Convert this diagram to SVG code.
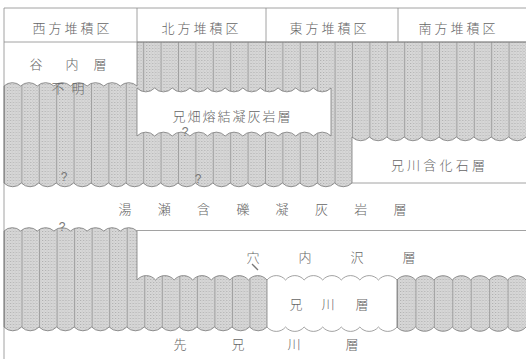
<svg xmlns="http://www.w3.org/2000/svg" width="526" height="359" viewBox="0 0 526 359">
<style>
.t{font-family:"Noto Sans CJK JP","Noto Sans CJK SC",sans-serif;font-size:13px;font-weight:300;fill:#666;text-anchor:middle;dominant-baseline:central}
.q{font-family:"Liberation Sans",sans-serif;font-size:12px;fill:#777;text-anchor:middle;dominant-baseline:central}
.ln{fill:none;stroke:#8a8a8a;stroke-width:0.8}
.hatch{stroke:#7a7a7a;stroke-width:0.8}
</style>
<defs>
<pattern id="dots" width="3" height="3" patternUnits="userSpaceOnUse">
<rect width="3" height="3" fill="#d8d8d8"/>
<rect x="0" y="0" width="1" height="1" fill="#adadad"/>
<rect x="1.5" y="1.5" width="1" height="1" fill="#c0c0c0"/>
</pattern>
<pattern id="pA" x="4" y="0" width="17.4" height="6" patternUnits="userSpaceOnUse">
<rect width="17.4" height="6" fill="url(#dots)"/>
<line x1="0.5" y1="0" x2="0.5" y2="6" stroke="#9a9a9a" stroke-width="0.9"/>
</pattern>
<pattern id="pB" x="4" y="0" width="17.533" height="6" patternUnits="userSpaceOnUse">
<rect width="17.533" height="6" fill="url(#dots)"/>
<line x1="0.5" y1="0" x2="0.5" y2="6" stroke="#9a9a9a" stroke-width="0.9"/>
</pattern>
<pattern id="pC" x="397" y="0" width="18.429" height="6" patternUnits="userSpaceOnUse">
<rect width="18.429" height="6" fill="url(#dots)"/>
<line x1="0.5" y1="0" x2="0.5" y2="6" stroke="#9a9a9a" stroke-width="0.9"/>
</pattern>
</defs>
<rect width="526" height="359" fill="#fff"/>

<g id="hatch-upper">
<path class="hatch" fill="url(#pA)" fill-rule="evenodd" d="M4,86
a12 12 0 0 1 16.625 0 a12 12 0 0 1 16.625 0 a12 12 0 0 1 16.625 0 a12 12 0 0 1 16.625 0
a12 12 0 0 1 16.625 0 a12 12 0 0 1 16.625 0 a12 12 0 0 1 16.625 0 a12 12 0 0 1 16.625 0
V42 H527 V137 H526
a12 12 0 0 1 -17.4 0 a12 12 0 0 1 -17.4 0 a12 12 0 0 1 -17.4 0 a12 12 0 0 1 -17.4 0 a12 12 0 0 1 -17.4 0
a12 12 0 0 1 -17.4 0 a12 12 0 0 1 -17.4 0 a12 12 0 0 1 -17.4 0 a12 12 0 0 1 -17.4 0 a12 12 0 0 1 -17.4 0
V183
a12 12 0 0 1 -17.4 0 a12 12 0 0 1 -17.4 0 a12 12 0 0 1 -17.4 0 a12 12 0 0 1 -17.4 0 a12 12 0 0 1 -17.4 0
a12 12 0 0 1 -17.4 0 a12 12 0 0 1 -17.4 0 a12 12 0 0 1 -17.4 0 a12 12 0 0 1 -17.4 0 a12 12 0 0 1 -17.4 0
a12 12 0 0 1 -17.4 0 a12 12 0 0 1 -17.4 0 a12 12 0 0 1 -17.4 0 a12 12 0 0 1 -17.4 0 a12 12 0 0 1 -17.4 0
a12 12 0 0 1 -17.4 0 a12 12 0 0 1 -17.4 0 a12 12 0 0 1 -17.4 0 a12 12 0 0 1 -17.4 0 a12 12 0 0 1 -17.4 0
Z
M137,88
a12 12 0 0 0 17.636 0 a12 12 0 0 0 17.636 0 a12 12 0 0 0 17.636 0 a12 12 0 0 0 17.636 0
a12 12 0 0 0 17.636 0 a12 12 0 0 0 17.636 0 a12 12 0 0 0 17.636 0 a12 12 0 0 0 17.636 0
a12 12 0 0 0 17.636 0 a12 12 0 0 0 17.636 0 a12 12 0 0 0 17.636 0
V136
a12 12 0 0 0 -17.636 0 a12 12 0 0 0 -17.636 0 a12 12 0 0 0 -17.636 0 a12 12 0 0 0 -17.636 0
a12 12 0 0 0 -17.636 0 a12 12 0 0 0 -17.636 0 a12 12 0 0 0 -17.636 0 a12 12 0 0 0 -17.636 0
a12 12 0 0 0 -17.636 0 a12 12 0 0 0 -17.636 0 a12 12 0 0 0 -17.636 0
Z"/>
</g>

<g id="hatch-lower-left">
<path class="hatch" fill="url(#pB)" d="M4,231
a12 12 0 0 1 16.625 0 a12 12 0 0 1 16.625 0 a12 12 0 0 1 16.625 0 a12 12 0 0 1 16.625 0
a12 12 0 0 1 16.625 0 a12 12 0 0 1 16.625 0 a12 12 0 0 1 16.625 0 a12 12 0 0 1 16.625 0
V280
a12 12 0 0 1 18.571 0 a12 12 0 0 1 18.571 0 a12 12 0 0 1 18.571 0 a12 12 0 0 1 18.571 0
a12 12 0 0 1 18.571 0 a12 12 0 0 1 18.571 0 a12 12 0 0 1 18.571 0
V327
a12 12 0 0 1 -17.533 0 a12 12 0 0 1 -17.533 0 a12 12 0 0 1 -17.533 0 a12 12 0 0 1 -17.533 0 a12 12 0 0 1 -17.533 0
a12 12 0 0 1 -17.533 0 a12 12 0 0 1 -17.533 0 a12 12 0 0 1 -17.533 0 a12 12 0 0 1 -17.533 0 a12 12 0 0 1 -17.533 0
a12 12 0 0 1 -17.533 0 a12 12 0 0 1 -17.533 0 a12 12 0 0 1 -17.533 0 a12 12 0 0 1 -17.533 0 a12 12 0 0 1 -17.533 0
Z"/>
</g>

<g id="hatch-lower-right">
<path class="hatch" fill="url(#pC)" d="M397,280
a12 12 0 0 1 18.429 0 a12 12 0 0 1 18.429 0 a12 12 0 0 1 18.429 0 a12 12 0 0 1 18.429 0
a12 12 0 0 1 18.429 0 a12 12 0 0 1 18.429 0 a12 12 0 0 1 18.429 0
H527 V327 H526
a12 12 0 0 1 -18.429 0 a12 12 0 0 1 -18.429 0 a12 12 0 0 1 -18.429 0 a12 12 0 0 1 -18.429 0
a12 12 0 0 1 -18.429 0 a12 12 0 0 1 -18.429 0 a12 12 0 0 1 -18.429 0
Z"/>
</g>

<g id="frame">
<path class="ln" d="M4,8H526M4,42H526M4,8V359M137,8V42M266,8V42M398,8V42"/>
<path class="ln" d="M137,230.5H526M352,183H526"/>
<path class="ln" d="M267,280
a12 12 0 0 1 18.571 0 a12 12 0 0 1 18.571 0 a12 12 0 0 1 18.571 0 a12 12 0 0 1 18.571 0
a12 12 0 0 1 18.571 0 a12 12 0 0 1 18.571 0 a12 12 0 0 1 18.571 0
M267,327
a12 12 0 0 0 18.571 0 a12 12 0 0 0 18.571 0 a12 12 0 0 0 18.571 0 a12 12 0 0 0 18.571 0
a12 12 0 0 0 18.571 0 a12 12 0 0 0 18.571 0 a12 12 0 0 0 18.571 0"/>
<path d="M252,264L258,270" stroke="#777" stroke-width="1.3"/>
</g>

<g id="headers">
<text class="t" x="72.5" y="27" style="letter-spacing:3px">西方堆積区</text>
<text class="t" x="201.5" y="27" style="letter-spacing:3px">北方堆積区</text>
<text class="t" x="329.5" y="27" style="letter-spacing:3px">東方堆積区</text>
<text class="t" x="458.5" y="27" style="letter-spacing:3px">南方堆積区</text>
</g>

<g id="tanai">
<text class="t" x="36" y="63">谷</text>
<text class="t" x="72" y="63">内</text>
<text class="t" x="100" y="63">層</text>
<text class="t" x="58" y="87">不</text>
<text class="t" x="78" y="87">明</text>
</g>

<g id="anihata">
<text class="t" x="232.5" y="115" style="letter-spacing:2px">兄畑熔結凝灰岩層</text>
</g>

<g id="anikawa-fossil">
<text class="t" x="439.5" y="164" style="letter-spacing:3.2px">兄川含化石層</text>
</g>

<g id="yuze">
<text class="t" x="125" y="208">湯</text>
<text class="t" x="164.3" y="208">瀬</text>
<text class="t" x="203.6" y="208">含</text>
<text class="t" x="242.9" y="208">礫</text>
<text class="t" x="282.1" y="208">凝</text>
<text class="t" x="321.4" y="208">灰</text>
<text class="t" x="360.7" y="208">岩</text>
<text class="t" x="400" y="208">層</text>
</g>

<g id="anaizawa">
<text class="t" x="253" y="256">穴</text>
<text class="t" x="305" y="256">内</text>
<text class="t" x="357" y="256">沢</text>
<text class="t" x="409" y="256">層</text>
</g>

<g id="anikawa">
<text class="t" x="296" y="303">兄</text>
<text class="t" x="328" y="303">川</text>
<text class="t" x="362" y="303">層</text>
</g>

<g id="sen-anikawa">
<text class="t" x="180" y="343">先</text>
<text class="t" x="238" y="343">兄</text>
<text class="t" x="294" y="343">川</text>
<text class="t" x="352" y="343">層</text>
</g>

<g id="marks">
<text class="q" x="185" y="132">?</text>
<text class="q" x="64" y="177">?</text>
<text class="q" x="198" y="179">?</text>
<text class="q" x="62" y="227">?</text>
</g>
</svg>
